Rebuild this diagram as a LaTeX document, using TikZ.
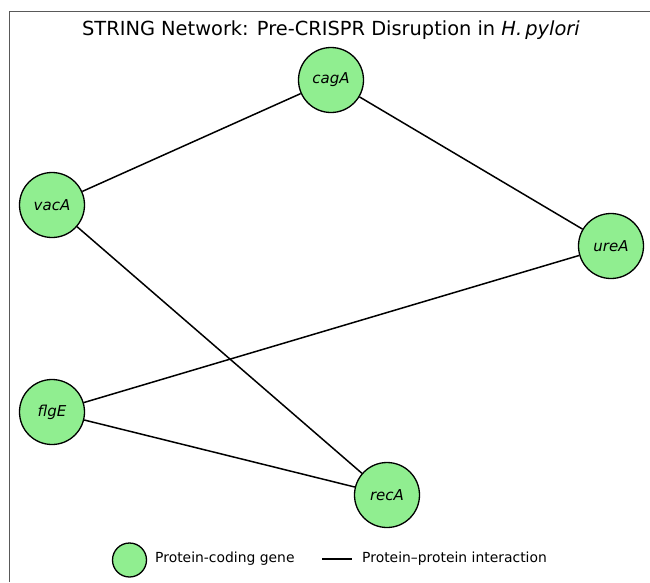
\documentclass[tikz,border=0pt]{standalone}
\usepackage{fontspec}
\setmainfont{DejaVu Sans}
\definecolor{nodegreen}{HTML}{90EE90}
\begin{document}
\begin{tikzpicture}[x=1pt,y=-1pt,
  gene/.style={circle,draw=black,line width=1.3pt,fill=nodegreen,minimum size=65pt,inner sep=0pt,font=\fontsize{15}{15}\selectfont\itshape},
  ppi/.style={draw=black,line width=1.5pt},
  legtext/.style={anchor=west,inner sep=0pt,font=\fontsize{13.9}{13.9}\selectfont}]
\useasboundingbox (0,0) rectangle (650,582);
\draw[gray!70!black,line width=0.8pt] (9,582) -- (9,11) -- (650,11);
\node[font=\fontsize{19.4}{19.4}\selectfont] (title) at (331,30) {STRING Network: Pre-CRISPR Disruption in \textit{H.\,pylori}};
\node[gene] (cagA) at (331,80) {cagA};
\node[gene] (vacA) at (52,205) {vacA};
\node[gene] (ureA) at (611,246) {ureA};
\node[gene] (flgE) at (52,412) {flgE};
\node[gene] (recA) at (387,495) {recA};
\draw[ppi] (cagA) -- (vacA);
\draw[ppi] (cagA) -- (ureA);
\draw[ppi] (vacA) -- (recA);
\draw[ppi] (ureA) -- (flgE);
\draw[ppi] (flgE) -- (recA);
% legend
\node[circle,draw=black,line width=1.3pt,fill=nodegreen,minimum size=34pt,inner sep=0pt] (legnode) at (129.5,560) {};
\node[legtext] (legtext1) at (155,559) {Protein-coding gene};
\coordinate (l1) at (322,559);
\coordinate (l2) at (352,559);
\draw[ppi] (l1) -- (l2);
\node[legtext] (legtext2) at (362,559) {Protein–protein interaction};
\end{tikzpicture}
\end{document}
